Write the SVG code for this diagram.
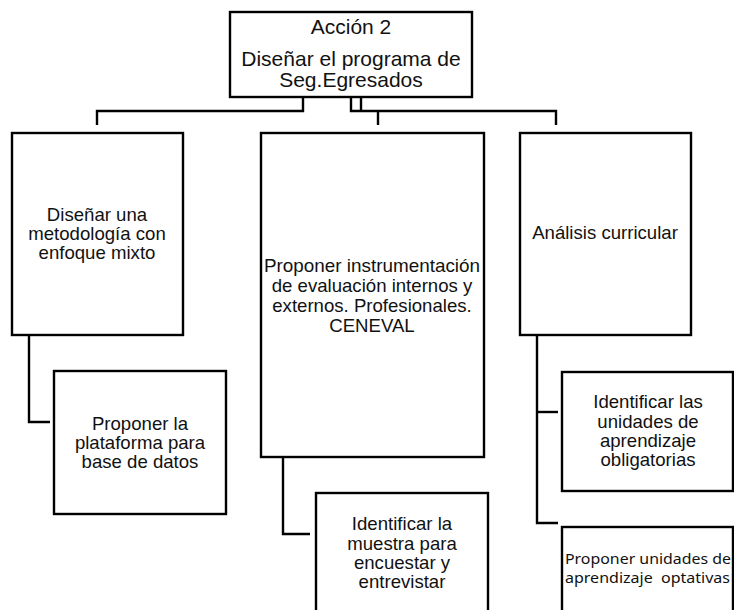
<svg xmlns="http://www.w3.org/2000/svg" width="734" height="610" viewBox="0 0 734 610">
  <style>
    .box { fill: #ffffff; stroke: #000000; stroke-width: 2.4; }
    .link { fill: none; stroke: #000000; stroke-width: 2.4; stroke-linejoin: miter; stroke-linecap: butt; }
    .lbl { font-family: "Liberation Sans", Arial, sans-serif; font-size: 18.6px; fill: #111111; text-anchor: middle; }
    .head { font-size: 21px; }
    .cal { font-family: "Noto Sans", "Open Sans", sans-serif; font-size: 15px; fill: #111111; }
  </style>
  <rect width="734" height="610" fill="#ffffff"/>

  <!-- connectors -->
  <g id="connectors">
    <path class="link" d="M303,97 V111 H97 V125"/>
    <path class="link" d="M351,97 V111 H556 V125"/>
    <path class="link" d="M361,97 V111"/>
    <path class="link" d="M378,111 V125"/>
    <path class="link" d="M29,335 V422 H50"/>
    <path class="link" d="M283,457 V534 H310"/>
    <path class="link" d="M537,335 V523 H558"/>
    <path class="link" d="M537,412 H558"/>
  </g>

  <g id="root">
    <rect class="box" x="230" y="12" width="242" height="85"/>
    <text class="lbl head" x="351" y="34">Acción 2</text>
    <text class="lbl head" x="351" y="66">Diseñar el programa de</text>
    <text class="lbl head" x="351" y="87">Seg.Egresados</text>
  </g>

  <g id="metodologia">
    <rect class="box" x="12" y="133" width="171" height="202"/>
    <text class="lbl" x="97" y="221">Diseñar una</text>
    <text class="lbl" x="97" y="240">metodología con</text>
    <text class="lbl" x="97" y="259">enfoque mixto</text>
  </g>

  <g id="plataforma">
    <rect class="box" x="54" y="371" width="172" height="143"/>
    <text class="lbl" x="140" y="430">Proponer la</text>
    <text class="lbl" x="140" y="449">plataforma para</text>
    <text class="lbl" x="140" y="468">base de datos</text>
  </g>

  <g id="instrumentacion">
    <rect class="box" x="261" y="133" width="223" height="324"/>
    <text class="lbl" x="372" y="272" textLength="216" lengthAdjust="spacingAndGlyphs">Proponer instrumentación</text>
    <text class="lbl" x="372" y="292">de evaluación internos y</text>
    <text class="lbl" x="372" y="312">externos. Profesionales.</text>
    <text class="lbl" x="372" y="332">CENEVAL</text>
  </g>

  <g id="muestra">
    <rect class="box" x="316" y="493" width="172" height="130"/>
    <text class="lbl" x="402" y="530">Identificar la</text>
    <text class="lbl" x="402" y="550">muestra para</text>
    <text class="lbl" x="402" y="569">encuestar y</text>
    <text class="lbl" x="402" y="588">entrevistar</text>
  </g>

  <g id="analisis">
    <rect class="box" x="520" y="133" width="171" height="202"/>
    <text class="lbl" x="605" y="239">Análisis curricular</text>
  </g>

  <g id="obligatorias">
    <rect class="box" x="562" y="372" width="171" height="119"/>
    <text class="lbl" x="648" y="408">Identificar las</text>
    <text class="lbl" x="648" y="428">unidades de</text>
    <text class="lbl" x="648" y="447">aprendizaje</text>
    <text class="lbl" x="648" y="466">obligatorias</text>
  </g>

  <g id="optativas">
    <rect class="box" x="562" y="527" width="171" height="100"/>
    <text class="cal" x="565" y="564" textLength="166" lengthAdjust="spacingAndGlyphs">Proponer unidades de</text>
    <text class="cal" x="565" y="583" textLength="165" lengthAdjust="spacingAndGlyphs" xml:space="preserve">aprendizaje  optativas</text>
  </g>
</svg>
